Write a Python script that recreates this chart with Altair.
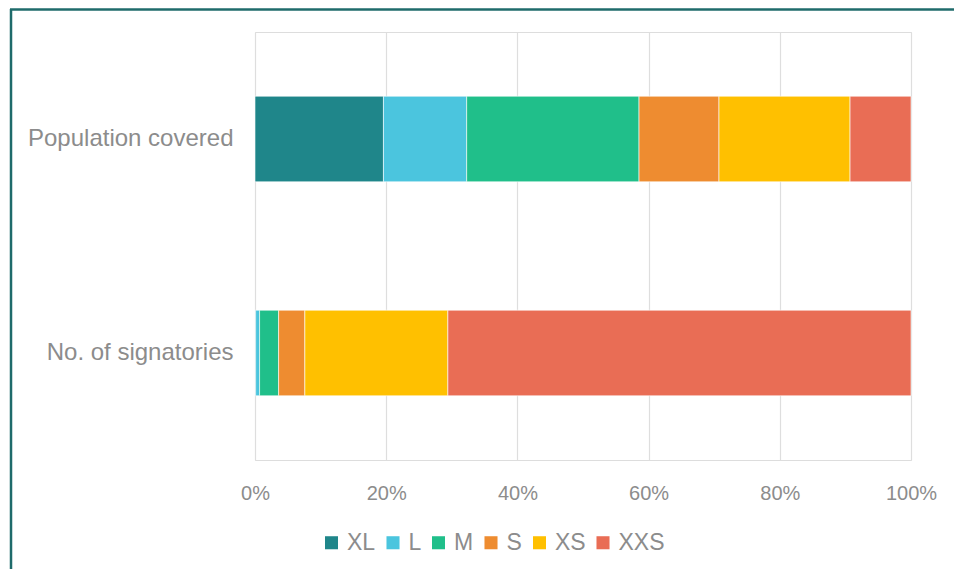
import altair as alt
import pandas as pd

categories = ["Population covered", "No. of signatories"]
sizes = ["XL", "L", "M", "S", "XS", "XXS"]
colors = ["#1F868A", "#4BC5DE", "#20BF8A", "#EE8C30", "#FFC000", "#E96D55"]
population = [19.6, 12.7, 26.3, 12.2, 20.0, 9.3]
signatories = [0.1, 0.6, 2.9, 4.0, 21.8, 70.6]

rows = []
for cat, vals in zip(categories, [population, signatories]):
    for i, (s, v) in enumerate(zip(sizes, vals)):
        rows.append({"category": cat, "size": s, "value": v, "idx": i})
df = pd.DataFrame(rows)

gray = "#8C8C8C"

bars = alt.Chart(df).mark_bar(stroke="white", strokeWidth=0.6).encode(
    y=alt.Y("category:N", sort=categories, title=None,
            scale=alt.Scale(paddingInner=0.6, paddingOuter=0.3),
            axis=alt.Axis(labelFontSize=24, labelColor=gray, ticks=False, tickSize=0,
                          domain=False, labelPadding=22, labelLimit=400,
                          labelFont="Liberation Sans")),
    x=alt.X("value:Q", stack="normalize", title=None,
            scale=alt.Scale(domain=[0, 1]),
            axis=alt.Axis(format="%", values=[0, 0.2, 0.4, 0.6, 0.8, 1.0],
                          labelFontSize=20, labelColor=gray, ticks=False, tickSize=0,
                          domain=False, grid=True, gridColor="#DEDEDE", gridWidth=1.2,
                          labelPadding=23, labelFlush=False,
                          labelFont="Liberation Sans")),
    color=alt.Color("size:N", scale=alt.Scale(domain=sizes, range=colors), title=None,
                    legend=alt.Legend(orient="none", direction="horizontal",
                                      legendX=65, legendY=499,
                                      labelFontSize=23, labelColor=gray,
                                      labelFont="Liberation Sans",
                                      symbolType="square", symbolSize=170,
                                      symbolStrokeWidth=0, labelOffset=4,
                                      columnPadding=5.5)),
    order=alt.Order("idx:Q"),
)

frame_df = pd.DataFrame({"k": [0]})
left_line = alt.Chart(frame_df).mark_rule(color="#1F6B6B", strokeWidth=2.5).encode(
    x=alt.value(-244), y=alt.value(-23), y2=alt.value(560))
top_line = alt.Chart(frame_df).mark_rule(color="#1F6B6B", strokeWidth=2.5).encode(
    x=alt.value(-245), x2=alt.value(720), y=alt.value(-22.5))

chart = alt.layer(bars, left_line, top_line).properties(
    width=656, height=428,
    autosize=alt.AutoSizeParams(type="none"),
    padding={"left": 247, "top": 24, "right": 43, "bottom": 109},
).configure_view(stroke=None).configure(font="Liberation Sans")

chart.save("out.html", embed_options={"renderer": "svg", "actions": False})
